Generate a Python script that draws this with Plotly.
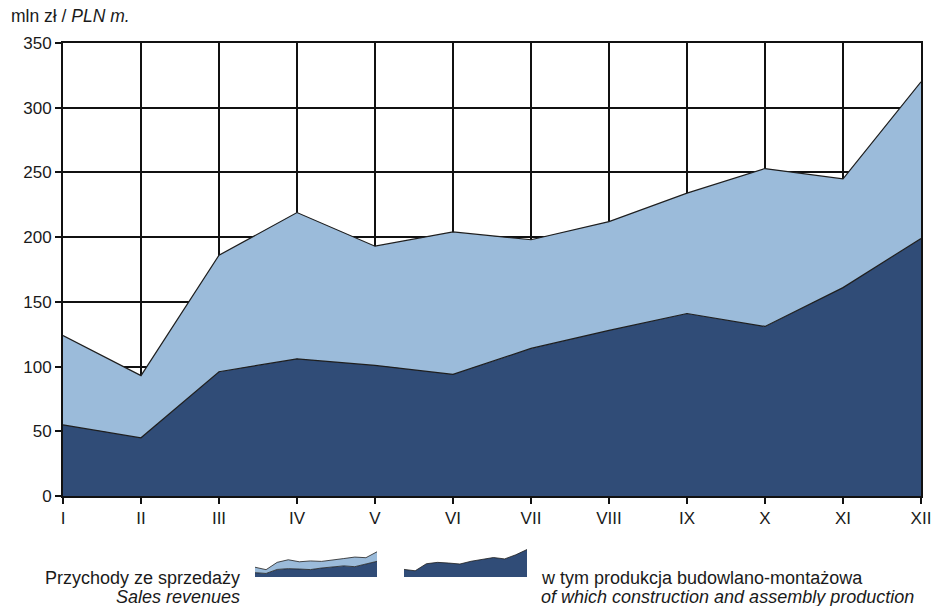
import plotly.graph_objects as go

months = ["I", "II", "III", "IV", "V", "VI", "VII", "VIII", "IX", "X", "XI", "XII"]
sales_revenues = [124, 93, 186, 219, 193, 204, 198, 212, 234, 253, 245, 320]
construction_assembly = [55, 45, 96, 106, 101, 94, 114, 128, 141, 131, 161, 199]
y_ticks = [0, 50, 100, 150, 200, 250, 300, 350]

DARK = "#304C77"
LIGHT = "#9BBBDA"
EDGE = "#1e1e1e"
FONT = "Liberation Sans, Arial, sans-serif"
TXT = "#1a1a1a"

W, H = 935, 606
L, R, T, B = 63, 14, 43, 0
plot_bottom = 496
avail_h = H - T - B
ydom0 = (H - B - plot_bottom) / avail_h

def px(xp):
    return (xp - L) / (W - L - R)

def py(yp):
    return (H - B - yp) / avail_h

xi = list(range(len(months)))

fig = go.Figure()
fig.add_trace(go.Scatter(x=xi, y=construction_assembly, fill="tozeroy", fillcolor=DARK,
                         mode="lines", line=dict(color=EDGE, width=1.2), hoverinfo="skip"))
fig.add_trace(go.Scatter(x=xi, y=sales_revenues, fill="tonexty", fillcolor=LIGHT,
                         mode="lines", line=dict(color=EDGE, width=1.2), hoverinfo="skip"))

# legend icons (mini charts from the same data)
fig.add_trace(go.Scatter(x=xi, y=construction_assembly, fill="tozeroy", fillcolor=DARK,
                         mode="lines", line=dict(color=EDGE, width=0.8), xaxis="x2", yaxis="y2", hoverinfo="skip"))
fig.add_trace(go.Scatter(x=xi, y=sales_revenues, fill="tonexty", fillcolor=LIGHT,
                         mode="lines", line=dict(color=EDGE, width=0.8), xaxis="x2", yaxis="y2", hoverinfo="skip"))
fig.add_trace(go.Scatter(x=xi, y=construction_assembly, fill="tozeroy", fillcolor=DARK,
                         mode="lines", line=dict(color=EDGE, width=0.8), xaxis="x3", yaxis="y3", hoverinfo="skip"))

fig.update_layout(
    width=W, height=H, autosize=False,
    margin=dict(l=L, r=R, t=T, b=B, pad=0),
    paper_bgcolor="white", plot_bgcolor="white",
    showlegend=False,
    font=dict(family=FONT, size=17, color=TXT),
    xaxis=dict(range=[0, 11], tickmode="array", tickvals=xi, ticktext=months,
               showgrid=True, gridcolor="#111", gridwidth=2, zeroline=False, automargin=False,
               showline=True, linecolor="#111", linewidth=2, mirror=True,
               ticks="outside", ticklen=6, tickwidth=2, tickcolor="#111",
               tickfont=dict(size=17, color=TXT)),
    yaxis=dict(domain=[ydom0, 1], range=[0, 350], tickvals=y_ticks, automargin=False,
               showgrid=True, gridcolor="#111", gridwidth=2, zeroline=False,
               showline=True, linecolor="#111", linewidth=2, mirror=True,
               ticks="outside", ticklen=6, tickwidth=2, tickcolor="#111",
               tickfont=dict(size=17, color=TXT)),
    xaxis2=dict(domain=[px(255), px(377)], anchor="y2", range=[0, 11], visible=False),
    yaxis2=dict(domain=[py(577), py(551)], anchor="x2", range=[0, 330], visible=False),
    xaxis3=dict(domain=[px(404), px(527)], anchor="y3", range=[0, 11], visible=False),
    yaxis3=dict(domain=[py(577), py(548)], anchor="x3", range=[0, 210], visible=False),
    annotations=[
        dict(xref="paper", yref="paper", x=px(9), y=py(16), xanchor="left", yanchor="middle",
             text="mln zł / <i>PLN m.</i>", showarrow=False, font=dict(size=17.5, color=TXT)),
        dict(xref="paper", yref="paper", x=px(242), y=py(578), xanchor="right", yanchor="middle",
             text="Przychody ze sprzedaży", showarrow=False, font=dict(size=18, color=TXT)),
        dict(xref="paper", yref="paper", x=px(242), y=py(597), xanchor="right", yanchor="middle",
             text="<i>Sales revenues</i>", showarrow=False, font=dict(size=18, color=TXT)),
        dict(xref="paper", yref="paper", x=px(539), y=py(578), xanchor="left", yanchor="middle",
             text="w tym produkcja budowlano-montażowa", showarrow=False, font=dict(size=18, color=TXT)),
        dict(xref="paper", yref="paper", x=px(539), y=py(597), xanchor="left", yanchor="middle",
             text="<i>of which construction and assembly production</i>", showarrow=False,
             font=dict(size=18, color=TXT)),
    ],
)

fig.write_html("out.html", config={"responsive": False, "displayModeBar": False},
               post_script="document.body.style.margin='0px'; document.body.style.padding='0px';")
